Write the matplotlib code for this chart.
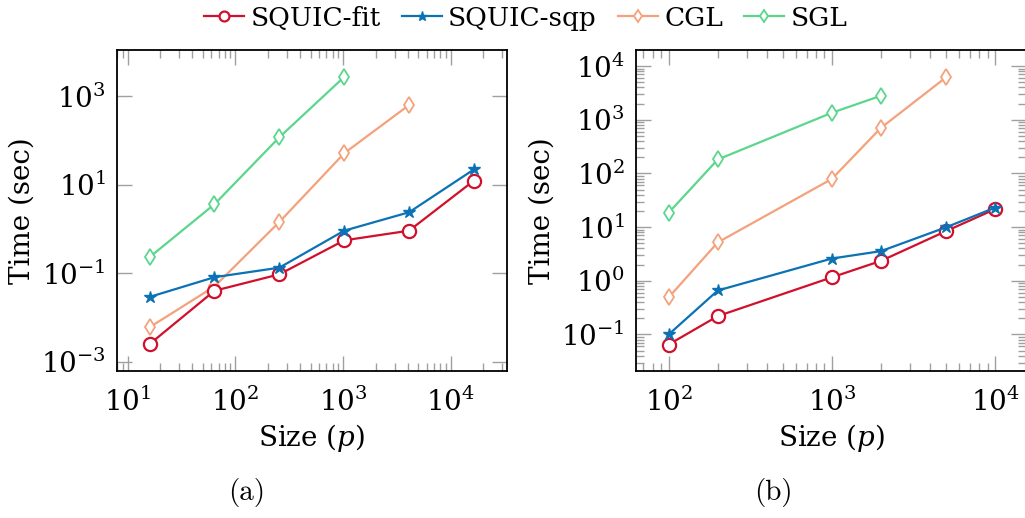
import numpy as np
import matplotlib
matplotlib.use("Agg")
import matplotlib.pyplot as plt
from matplotlib.ticker import LogLocator, NullLocator, LogFormatterMathtext, NullFormatter

plt.rcParams['font.family'] = 'DejaVu Serif'
plt.rcParams['mathtext.fontset'] = 'dejavuserif'

# panel (a)
size_a = [16, 64, 256, 1024, 4096, 16384]
fit_a = [0.0025, 0.040, 0.094, 0.55, 0.91, 12.3]
sqp_a = [0.029, 0.081, 0.133, 0.91, 2.37, 22]
cgl_a = [0.006, 0.05, 1.43, 51, 627]
sgl_a = [0.23, 3.6, 117, 2700]

# panel (b)
size_b = [100, 200, 1000, 2000, 5000, 10000]
fit_b = [0.065, 0.22, 1.16, 2.35, 8.4, 21.6]
sqp_b = [0.10, 0.66, 2.6, 3.57, 9.9, 23]
cgl_b = [0.49, 5.2, 79, 707, 6150]
sgl_b = [18.5, 182, 1350, 2800]

labels = ['SQUIC-fit', 'SQUIC-sqp', 'CGL', 'SGL']
colors = ['#d0102c', '#0a72b5', '#f4a27c', '#5cd68d']

fig = plt.figure(figsize=(10.25, 5.18), dpi=100)
ax1 = fig.add_axes([0.114, 0.2838, 0.3805, 0.6197])
ax2 = fig.add_axes([0.6205, 0.2838, 0.3805, 0.6197])


def draw(ax, x, fit, sqp, cgl, sgl):
    ax.plot(x, fit, color=colors[0], lw=1.6, marker='o', ms=9.5, mfc='white',
            mec=colors[0], mew=1.6, label=labels[0], zorder=5)
    ax.plot(x, sqp, color=colors[1], lw=1.6, marker='*', ms=9, mfc=colors[1],
            mec=colors[1], label=labels[1], zorder=6)
    ax.plot(x[:len(cgl)], cgl, color=colors[2], lw=1.6, marker='d', ms=8, mfc='white',
            mec=colors[2], mew=1.3, label=labels[2], zorder=4)
    ax.plot(x[:len(sgl)], sgl, color=colors[3], lw=1.6, marker='d', ms=8, mfc='white',
            mec=colors[3], mew=1.3, label=labels[3], zorder=4)
    ax.set_xscale('log')
    ax.set_yscale('log')
    ax.tick_params(which='both', direction='in', top=True, right=True,
                   color='#a0a0a0', labelsize=20)
    ax.tick_params(axis='x', which='both', pad=12)
    ax.tick_params(axis='y', which='both', pad=8)
    ax.tick_params(which='major', length=11, width=1)
    ax.tick_params(which='minor', length=6, width=1)
    for s in ax.spines.values():
        s.set_linewidth(1.3)
    ax.xaxis.set_major_locator(LogLocator(base=10))
    ax.xaxis.set_minor_locator(LogLocator(base=10, subs=np.arange(2, 10)))
    ax.xaxis.set_minor_formatter(NullFormatter())
    ax.set_xlabel('Size ($p$)', fontsize=20, labelpad=4)
    ax.set_ylabel('Time (sec)', fontsize=20, labelpad=4)


draw(ax1, size_a, fit_a, sqp_a, cgl_a, sgl_a)
ax1.set_xlim(10 ** 0.90, 10 ** 4.52)
ax1.set_ylim(10 ** -3.21, 10 ** 4.04)
ax1.set_yticks([1e-3, 1e-1, 1e1, 1e3])
ax1.yaxis.set_major_formatter(LogFormatterMathtext())
ax1.yaxis.set_minor_locator(NullLocator())

draw(ax2, size_b, fit_b, sqp_b, cgl_b, sgl_b)
ax2.set_xlim(10 ** 1.80, 10 ** 4.19)
ax2.set_ylim(10 ** -1.68, 10 ** 4.30)
ax2.yaxis.set_major_locator(LogLocator(base=10, numticks=20))
ax2.yaxis.set_minor_locator(LogLocator(base=10, subs=np.arange(2, 10), numticks=20))
ax2.yaxis.set_minor_formatter(NullFormatter())

fig.text(0.241, 0.035, '(a)', fontsize=21, family='cmr10', ha='center')
fig.text(0.755, 0.035, '(b)', fontsize=21, family='cmr10', ha='center')

handles, labs = ax1.get_legend_handles_labels()
fig.legend(handles, labs, loc='upper center', bbox_to_anchor=(0.513, 1.035), ncol=4,
           frameon=False, fontsize=19, handlelength=1.5, handletextpad=0.25,
           columnspacing=0.8, markerscale=0.75)

fig.savefig('out.png', dpi=100)
